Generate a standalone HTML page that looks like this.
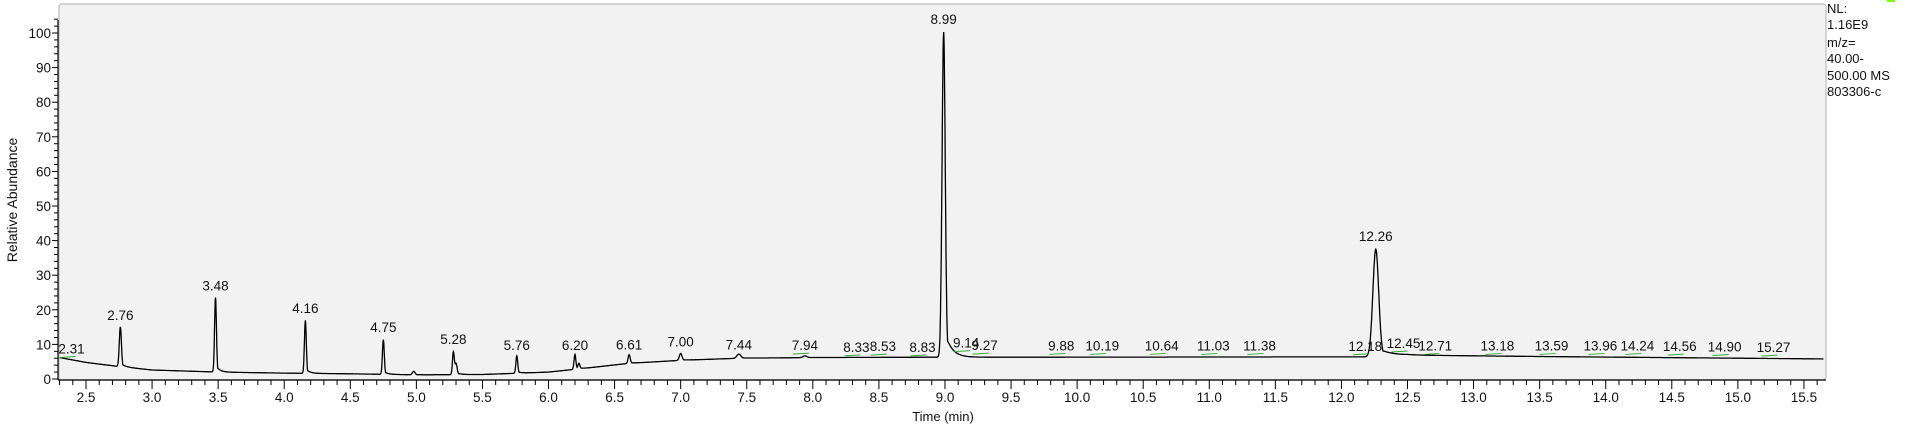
<!DOCTYPE html>
<html><head><meta charset="utf-8"><style>
html,body{margin:0;padding:0;background:#fff;width:1906px;height:427px;overflow:hidden}
svg{display:block;font-family:"Liberation Sans",Arial,sans-serif}
</style></head><body>
<svg id="chart" width="1906" height="427">
<rect x="59" y="4" width="1767" height="376" rx="3" fill="#f2f2f2" stroke="#c8c8c8" stroke-width="1.5"/>
<g id="axes"></g>
<path id="trace" fill="none" stroke="#000" stroke-width="1.3"/>
<g id="labels"></g>
<text x="17" y="200" font-size="14" text-anchor="middle" transform="rotate(-90 17 200)" fill="#111">Relative Abundance</text>
<text x="943" y="421" font-size="13" text-anchor="middle" fill="#111">Time (min)</text>
<g font-size="13" fill="#111">
<text x="1827" y="13">NL:</text>
<text x="1827" y="29">1.16E9</text>
<text x="1827" y="47">m/z=</text>
<text x="1827" y="63">40.00-</text>
<text x="1827" y="80">500.00  MS</text>
<text x="1827" y="96">803306-c</text>
</g>
<rect x="1887" y="0" width="8" height="2" fill="#7fff00"/>
</svg>
<script>
const xTicks=["2.5","3.0","3.5","4.0","4.5","5.0","5.5","6.0","6.5","7.0","7.5","8.0","8.5","9.0","9.5","10.0","10.5","11.0","11.5","12.0","12.5","13.0","13.5","14.0","14.5","15.0","15.5"];
const yTicks=[0,10,20,30,40,50,60,70,80,90,100];
const baseTimes=[2.3,2.5,2.75,3.0,3.5,4.0,4.5,5.0,5.5,6.0,6.3,6.6,7.0,7.44,8.0,8.9,9.5,12.2,12.5,13.5,15.65];
const baseValues=[6.2,4.8,3.6,2.6,2.0,1.7,1.5,1.2,1.3,2.0,3.2,4.5,5.4,6.0,6.2,6.3,6.3,6.4,6.9,6.5,5.8];
const peakTimes=[2.76,3.48,4.16,4.75,4.98,5.28,5.30,5.76,6.20,6.23,6.61,7.00,7.44,7.94,8.99,12.26];
const peakHeights=[11.5,21.5,15.3,10,1.0,6.5,3,5,4.3,1.5,2.5,2,1.2,0.5,94,31];
const peakWidths=[0.008,0.007,0.007,0.007,0.01,0.007,0.008,0.007,0.007,0.007,0.008,0.01,0.015,0.015,0.012,0.022];
const labelTexts=["2.31","2.76","3.48","4.16","4.75","5.28","5.76","6.20","6.61","7.00","7.44","7.94","8.33","8.53","8.83","8.99","9.14","9.27","9.88","10.19","10.64","11.03","11.38","12.18","12.26","12.45","12.71","13.18","13.59","13.96","14.24","14.56","14.90","15.27"];
const labelTimes=[2.39,2.76,3.48,4.16,4.75,5.28,5.76,6.20,6.61,7.00,7.44,7.94,8.33,8.53,8.83,8.99,9.16,9.30,9.88,10.19,10.64,11.03,11.38,12.18,12.26,12.47,12.71,13.18,13.59,13.96,14.24,14.56,14.90,15.27];
const labelValues=[8.8,18.5,27,20.5,15,11.5,9.8,9.8,10,10.8,10,9.8,9.3,9.5,9.3,104,10.5,9.8,9.7,9.7,9.7,9.7,9.7,9.6,41.3,10.4,9.7,9.7,9.7,9.7,9.7,9.5,9.4,9.2];
const NS='http://www.w3.org/2000/svg';
const X=t=>86+(t-2.5)*132.15;
const Y=v=>379-v*3.46;
const axes=document.getElementById('axes');
function el(tag,attrs,parent){const e=document.createElementNS(NS,tag);for(const k in attrs)e.setAttribute(k,attrs[k]);parent.appendChild(e);return e;}
el('line',{x1:58,y1:20,x2:58,y2:380,stroke:'#000','stroke-width':1.2},axes);
el('line',{x1:58,y1:380,x2:1826,y2:380,stroke:'#000','stroke-width':1.2},axes);
for(let v=0;v<=104;v+=2){const major=v%10===0;
 const tk=el('line',{x1:major?52:54,x2:58,y1:Y(v),y2:Y(v),stroke:'#000','stroke-width':1},axes);
 
 }
yTicks.forEach(v=>{const t=el('text',{x:51,y:Y(v)+5,'font-size':13.5,'text-anchor':'end',fill:'#111'},axes);t.textContent=v;
 
 });
for(let i=23;i<=156;i++){const t=i/10;const major=i%5===0;
 const tk=el('line',{x1:X(t),x2:X(t),y1:380,y2:major?389:385,stroke:'#000','stroke-width':1},axes);
 
 }
xTicks.forEach(s=>{const t=el('text',{x:X(parseFloat(s)),y:402,'font-size':13.5,'text-anchor':'middle',fill:'#111'},axes);t.textContent=s;
 
 });
function base(t){if(t<=baseTimes[0])return baseValues[0];for(let i=1;i<baseTimes.length;i++){if(t<=baseTimes[i]){const f=(t-baseTimes[i-1])/(baseTimes[i]-baseTimes[i-1]);return baseValues[i-1]+f*(baseValues[i]-baseValues[i-1]);}}return baseValues[baseValues.length-1];}
let d='';
for(let t=2.3;t<=15.65;t+=0.002){let v=base(t);
 for(let i=0;i<peakTimes.length;i++){const dt=t-peakTimes[i];const w=peakWidths[i];
  const g=Math.exp(-dt*dt/(2*w*w));const tail=dt>0?0.1*Math.exp(-dt/(w*4)):0;
  v+=peakHeights[i]*Math.max(g,tail*(1-Math.exp(-dt/w)));}
 d+=(d?'L':'M')+X(t).toFixed(1)+','+Y(v).toFixed(1);}
document.getElementById('trace').setAttribute('d',d);
const lg=document.getElementById('labels');
labelTexts.forEach((s,i)=>{const t=el('text',{x:X(labelTimes[i]),y:Y(labelValues[i])+5,'font-size':13.5,'text-anchor':'middle',fill:'#111'},lg);t.textContent=s;
 
 
 if(labelValues[i]<12&&i!==0&&i<11)return;
 if(labelValues[i]<12){const g=el('line',{x1:X(labelTimes[i])-12,x2:X(labelTimes[i])+4,y1:Y(labelValues[i])+9,y2:Y(labelValues[i])+8,stroke:'#3a3','stroke-width':1},lg);
 
 }
});
</script>
</body></html>
